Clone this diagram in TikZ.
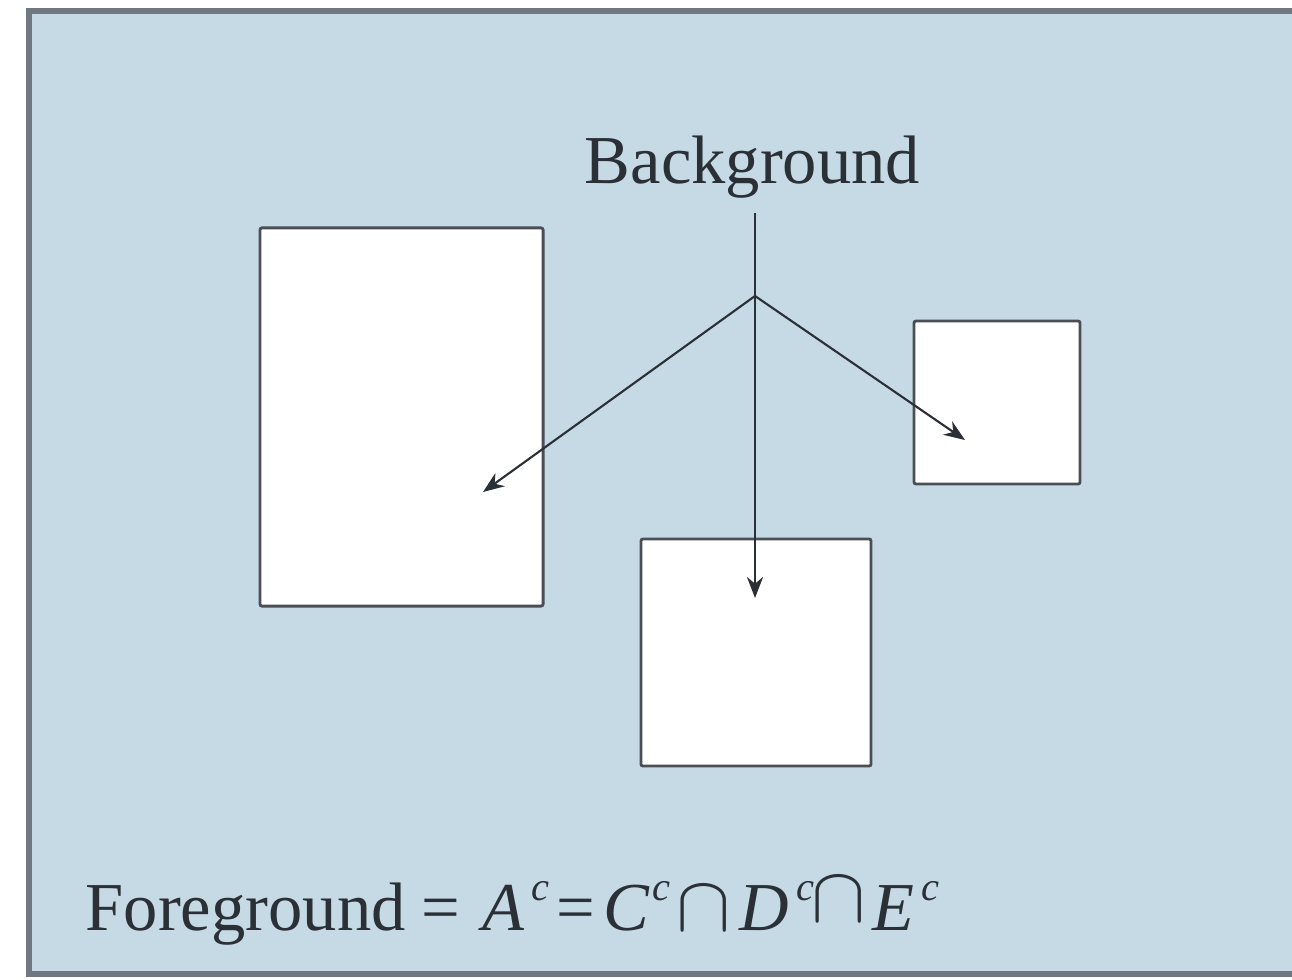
\documentclass[tikz,border=0pt]{standalone}
\usepackage{fontspec}
\usepackage{graphicx}
\setmainfont{Liberation Serif}
\usetikzlibrary{arrows.meta}
\definecolor{bgblue}{HTML}{C5DAE5}
\definecolor{framegray}{HTML}{6F7880}
\definecolor{ink}{HTML}{2B2F36}
\newlength\pxu
\setlength\pxu{0.01cm}
\newcommand\putat[2]{\makebox[0pt][l]{\hspace*{#1\pxu}#2}}
\newcommand\supc{\raisebox{8.3pt}{\fontsize{11.5}{13}\selectfont\itshape c}}
\newcommand\bigcapsym{\scalebox{1.12}[1.08]{$\cap$}}
\tikzset{
  regionbox/.style={draw=ink!85, line width=0.8pt, fill=white, rounded corners=0.6pt, inner sep=0pt},
  arr/.style={draw=ink, line width=0.6pt, -{Stealth[length=6pt,width=4.6pt]}},
  lbl/.style={text=ink, font=\fontsize{19.5}{23}\selectfont, inner sep=0pt}
}
\begin{document}
\begin{tikzpicture}[x=0.01cm,y=-0.01cm]
\useasboundingbox (0,0) rectangle (1292,979);
\clip (0,0) rectangle (1292,979);
\fill[white] (0,0) rectangle (1292,979);
\draw[framegray, line width=1.5pt, fill=bgblue] (29,11) rectangle (1320,974);

\node[regionbox, minimum width=2.83cm, minimum height=3.78cm] (boxA) at (401.5,417) {};
\node[regionbox, minimum width=2.30cm, minimum height=2.27cm] (boxD) at (756,652.5) {};
\node[regionbox, minimum width=1.66cm, minimum height=1.63cm] (boxE) at (997,402.5) {};

\node[lbl, anchor=base] (bglabel) at (752.5,183) {Background};
\node[lbl, anchor=base west] (fglabel) at (85,930) {%
\putat{0}{Foreground}%
\putat{336}{=}%
\putat{396.5}{\itshape A}%
\putat{446}{\supc}%
\putat{471}{=}%
\putat{517.5}{\itshape C}%
\putat{567}{\supc}%
\putat{590.7}{\bigcapsym}%
\putat{653.5}{\itshape D}%
\putat{711}{\supc}%
\putat{725.7}{\raisebox{2.3pt}{\bigcapsym}}%
\putat{787}{\itshape E}%
\putat{836}{\supc}%
\hspace*{865\pxu}};

\coordinate (top) at (755,213);
\coordinate (branch) at (755,296);
\coordinate (tipA) at (483,492);
\coordinate (tipD) at (755,598);
\coordinate (tipE) at (965,440);

\draw[draw=ink, line width=0.6pt] (top) -- (branch);
\draw[arr] (branch) -- (tipA);
\draw[arr] (branch) -- (tipD);
\draw[arr] (branch) -- (tipE);
\end{tikzpicture}
\end{document}
